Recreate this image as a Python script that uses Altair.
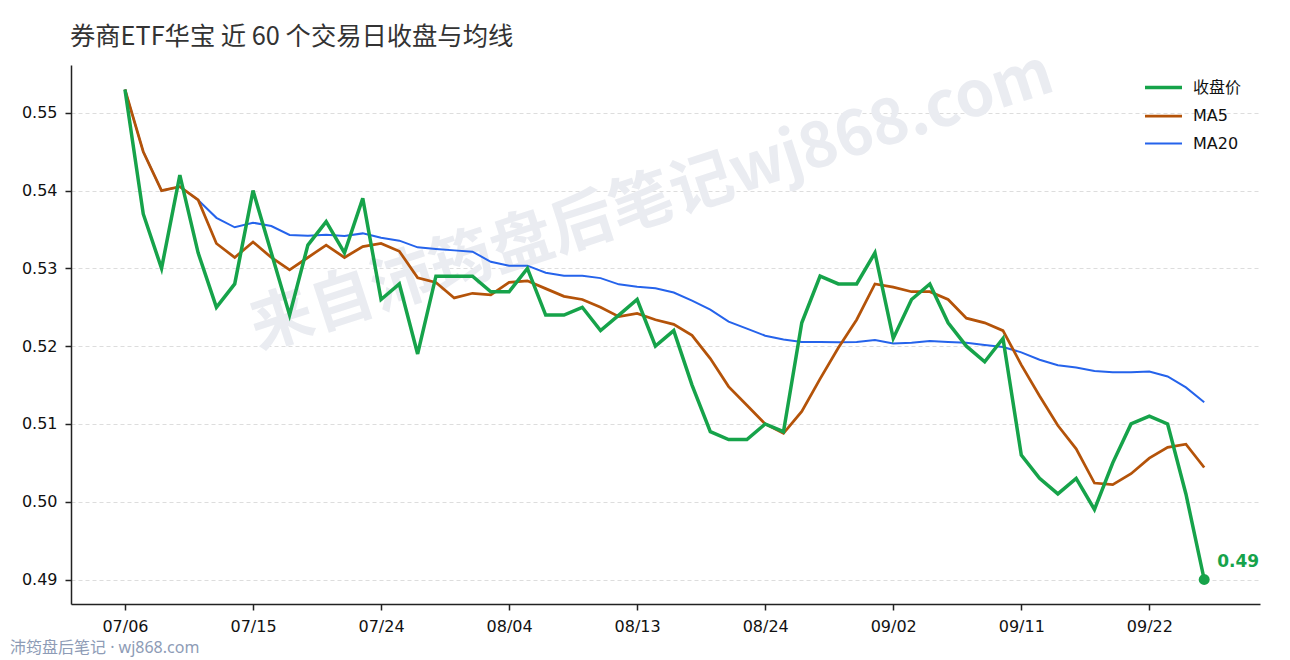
import altair as alt
import pandas as pd

# ---- data ----
close = [
    0.553, 0.537, 0.530, 0.542, 0.532, 0.525, 0.528, 0.540, 0.532, 0.524,
    0.533, 0.536, 0.532, 0.539, 0.526, 0.528, 0.519, 0.529, 0.529, 0.529,
    0.527, 0.527, 0.530, 0.524, 0.524, 0.525, 0.522, 0.524, 0.526, 0.520,
    0.522, 0.515, 0.509, 0.508, 0.508, 0.510, 0.509, 0.523, 0.529, 0.528,
    0.528, 0.532, 0.521, 0.526, 0.528, 0.523, 0.520, 0.518, 0.521, 0.506,
    0.503, 0.501, 0.503, 0.499, 0.505, 0.510, 0.511, 0.510, 0.501, 0.490,
]
tick_idx = [0, 7, 14, 21, 28, 35, 42, 49, 56]
tick_labels = ["07/06", "07/15", "07/24", "08/04", "08/13", "08/24", "09/02", "09/11", "09/22"]
y_ticks = [0.49, 0.50, 0.51, 0.52, 0.53, 0.54, 0.55]
series_names = ["收盘价", "MA5", "MA20"]
series_colors = ["#16a34a", "#b45309", "#2563eb"]
series_widths = [3.5, 2, 2]

title_text = "券商ETF华宝 近 60 个交易日收盘与均线"
watermark_text = "来自沛筠盘后笔记wj868.com"
footer_text = "沛筠盘后笔记 · wj868.com"

FONT = "Noto Sans CJK SC"
LFONT = "DejaVu Sans, Noto Sans CJK SC"

df = pd.DataFrame({"idx": list(range(len(close))), "close": close})

label_expr = ""
for i, l in zip(tick_idx, tick_labels):
    label_expr += f"datum.value == {i} ? '{l}' : "
label_expr += "''"

x_enc = alt.X(
    "idx:Q",
    scale=alt.Scale(domain=[-2.95, 62.05], nice=False, zero=False),
    axis=alt.Axis(
        values=tick_idx, labelExpr=label_expr, title=None, grid=False,
        domainColor="#222222", domainWidth=1.5, tickColor="#222222", tickWidth=1.5,
        tickSize=6, labelFontSize=16, labelColor="#111111", labelFont=LFONT,
        labelPadding=8,
    ),
)
y_scale = alt.Scale(domain=[0.48685, 0.55615], nice=False, zero=False)

legend = alt.Legend(
    title=None, orient="none", legendX=1072, legendY=2,
    symbolType="stroke", symbolSize=1369, labelFontSize=16, labelFont=LFONT,
    labelColor="#111111", rowPadding=-13, labelOffset=9,
)

base = (
    alt.Chart(df)
    .transform_window(ma5="mean(close)", frame=[-4, 0], sort=[alt.SortField("idx")])
    .transform_window(ma20="mean(close)", frame=[-19, 0], sort=[alt.SortField("idx")])
    .transform_fold(["ma20", "ma5", "close"], as_=["key", "value"])
    .transform_calculate(
        series="datum.key == 'close' ? '收盘价' : (datum.key == 'ma5' ? 'MA5' : 'MA20')"
    )
)

lines = base.mark_line(strokeJoin="miter").encode(
    x=x_enc,
    y=alt.Y(
        "value:Q", scale=y_scale,
        axis=alt.Axis(
            values=y_ticks, format=".2f", title=None, grid=True,
            gridDash=[4, 3], gridColor="#dddddd", gridWidth=1,
            domainColor="#222222", domainWidth=1.5, tickColor="#222222", tickWidth=1.5,
            tickSize=6, labelFontSize=16, labelColor="#111111", labelFont=LFONT,
            labelPadding=8,
        ),
    ),
    color=alt.Color("series:N", scale=alt.Scale(domain=series_names, range=series_colors), legend=legend),
    strokeWidth=alt.StrokeWidth("series:N", scale=alt.Scale(domain=series_names, range=series_widths), legend=legend),
    detail="series:N",
)

last = (
    alt.Chart(df)
    .transform_window(rank="row_number()", sort=[alt.SortField("idx", order="descending")])
    .transform_filter("datum.rank == 1")
)
last_pt = last.mark_circle(size=120, opacity=1, color="#16a34a").encode(
    x=alt.X("idx:Q"), y=alt.Y("close:Q", scale=y_scale)
)
last_txt = last.mark_text(
    align="left", baseline="middle", dx=13, dy=-18, fontSize=17, fontWeight="bold",
    color="#16a34a", font=LFONT,
).encode(x=alt.X("idx:Q"), y=alt.Y("close:Q", scale=y_scale), text=alt.Text("close:Q", format=".2f"))

wm = alt.Chart(pd.DataFrame({"t": [watermark_text]})).mark_text(
    align="center", baseline="middle", angle=342, fontSize=63, fontWeight="bold",
    color="#eaecf1", font=FONT,
).encode(x=alt.value(581), y=alt.value(137), text="t:N")

title = alt.Chart(pd.DataFrame({"t": [title_text]})).mark_text(
    align="left", baseline="middle", fontSize=25.3, color="#333333", font=FONT,
).encode(x=alt.value(-1), y=alt.value(-28), text="t:N")

footer = alt.Chart(pd.DataFrame({"t": [footer_text]})).mark_text(
    align="left", baseline="middle", fontSize=16, color="#8e9cb6",
    font="Noto Sans, Noto Sans CJK SC",
).encode(x=alt.value(-61), y=alt.value(583), text="t:N")

chart = (
    alt.layer(wm, lines, last_pt, last_txt, title, footer)
    .resolve_scale(x="shared", y="shared")
    .properties(
        width=1189, height=539,
        autosize=alt.AutoSizeParams(type="none"),
        padding={"left": 63, "top": 57, "right": 20, "bottom": 56},
        background="white",
    )
    .configure_view(stroke=None)
)

chart.save("out.html", embed_options={"renderer": "svg", "actions": False})
